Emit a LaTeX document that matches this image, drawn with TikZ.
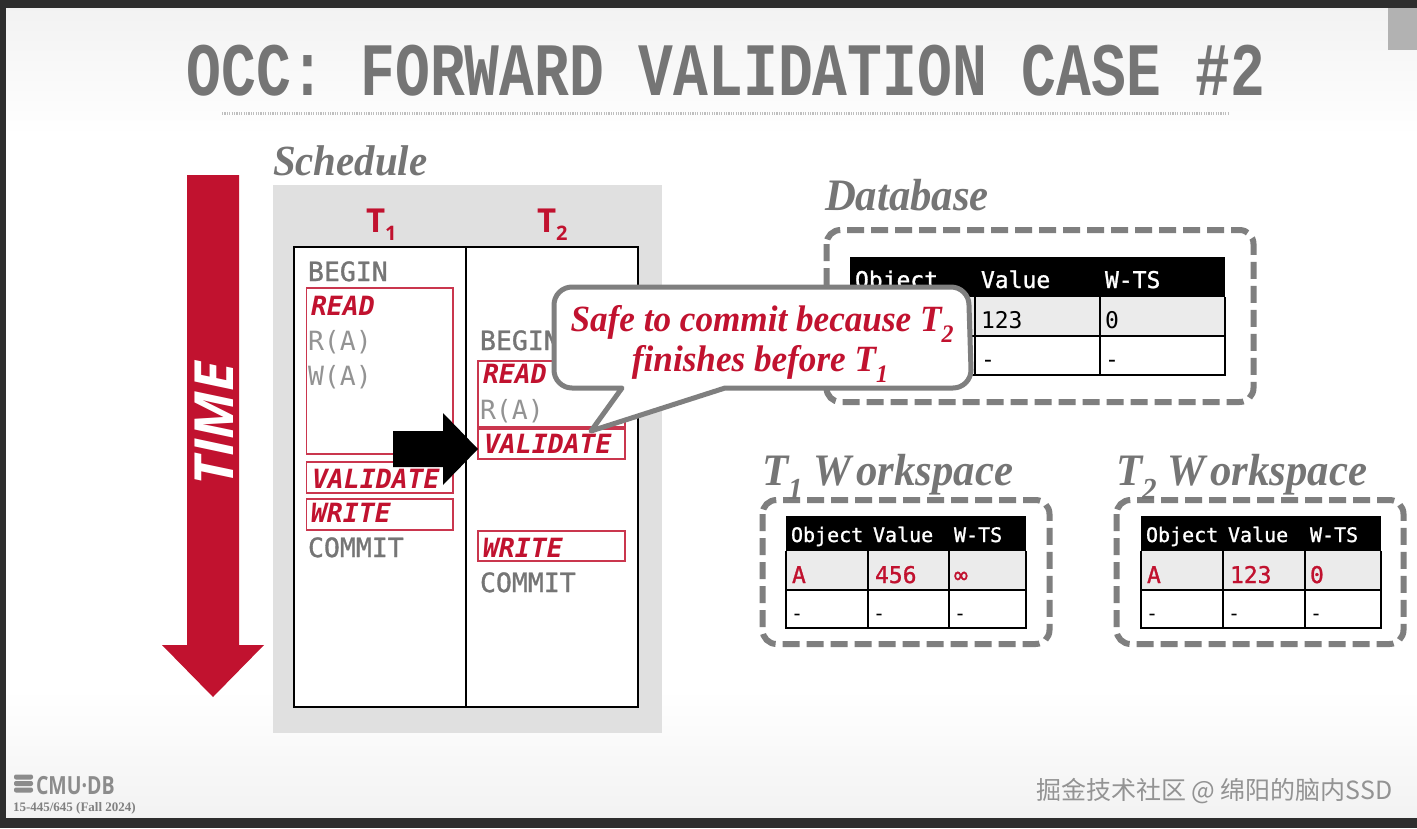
\documentclass[tikz,border=0pt]{standalone}
\usepackage{fontspec}
\setmainfont{Liberation Serif}
\newfontfamily\monof{DejaVu Sans Mono}
\newfontfamily\monom[FakeBold=1.2]{DejaVu Sans Mono}
\newfontfamily\titlef{Liberation Mono}
\newfontfamily\sansf{Open Sans}
\newfontfamily\serifc[FakeStretch=0.95]{Liberation Serif}
\newfontfamily\cjkf{Noto Sans CJK SC}
\usetikzlibrary{calc}
\definecolor{cmured}{HTML}{C1122F}
\definecolor{txtgray}{HTML}{757575}
\definecolor{dashgray}{HTML}{7F7F7F}
\tikzset{
  x=1pt,y=-1pt,
  lbl/.style={anchor=base west,inner sep=0pt,outer sep=0pt},
  step text/.style={lbl,text=txtgray,font=\monom\fontsize{26.5}{30}\selectfont},
  op text/.style={lbl,text=gray!85,font=\monof\fontsize{26.5}{30}\selectfont},
  phase text/.style={lbl,text=cmured,font=\monof\bfseries\itshape\fontsize{26.5}{30}\selectfont},
  phase box/.style={draw=cmured!85,line width=1.1pt,fill=white},
  heading/.style={lbl,text=txtgray,font=\serifc\bfseries\itshape\fontsize{45}{50}\selectfont},
  store box/.style={draw=dashgray,line width=6pt,rounded corners=14pt,dash pattern=on 17pt off 7pt},
  grid line/.style={draw=black,line width=2pt},
  big cell/.style={lbl,font=\monof\fontsize{23}{26}\selectfont},
  small cell/.style={lbl,font=\monof\fontsize{20}{24}\selectfont},
  head big/.style={lbl,text=white,font=\monom\fontsize{23}{26}\selectfont},
  head small/.style={lbl,text=white,font=\monom\fontsize{20}{24}\selectfont},
  small red/.style={lbl,text=cmured,font=\monom\fontsize{23}{26}\selectfont},
}
\newcommand{\lowsub}[1]{\raisebox{-0.32em}{\fontsize{0.68em}{1em}\selectfont #1}}
\newcommand{\workspace}[9]{%
  % #1 prefix, #2 left of box, #3..#5 column lines, #6 right line, #7 title, #8 value, #9 ts
  \draw[store box] (#2+2.5,500) rectangle (#2+289.5,644);
  \node[heading] (#1title) at (#2+2,485) {#7};
  \fill[black] (#3,516) rectangle (#6,551);
  \fill[gray!16] (#3,551) rectangle (#6,590);
  \fill[white] (#3,590) rectangle (#6,628);
  \draw[grid line] (#3,551) -- (#3,628) -- (#6,628) -- (#6,551) (#3,590) -- (#6,590)
     (#4,551) -- (#4,628) (#5,551) -- (#5,628);
  \node[head small] (#1h1) at (#3+5,542) {Object};
  \node[head small] (#1h2) at (#4+5,542) {Value};
  \node[head small] (#1h3) at (#5+5,542) {W-TS};
  \node[small red] (#1a) at (#3+6,583) {A};
  \node[small red] (#1b) at (#4+7,583) {#8};
  \node[small red] (#1c) at (#5+5,583) {#9};
  \node[small cell] (#1d) at (#3+5,620) {-};
  \node[small cell] (#1e) at (#4+5,620) {-};
  \node[small cell] (#1f) at (#5+5,620) {-};
}
\begin{document}
\begin{tikzpicture}
\useasboundingbox (0,0) rectangle (1417,828);
% frame and background
\fill[white] (0,0) rectangle (1417,828);
\shade[top color=black!5,bottom color=white] (6,8) rectangle (1417,135);
\shade[top color=white,bottom color=black!5] (6,690) rectangle (1417,818);
\fill[black!82] (0,0) rectangle (1417,8);
\fill[black!82] (0,0) rectangle (6,828);
\fill[black!82] (0,818) rectangle (1417,828);
\fill[black!30] (1388,8) rectangle (1417,50);
% title
\node[anchor=base,inner sep=0pt,text=txtgray] (title) at (726,95)
  {\scalebox{1}[1.3]{\titlef\bfseries\fontsize{58}{60}\selectfont OCC: FORWARD VALIDATION CASE \#2}};
\draw[gray!50,line width=3pt,dash pattern=on 1.2pt off 1.2pt] (222,113) -- (1228,113);
% time arrow
\fill[cmured] (187,175) -- (239,175) -- (239,645) -- (264,645) -- (213,697) -- (162,645) -- (187,645) -- cycle;
\node[rotate=90,inner sep=0pt,text=white,font=\sansf\bfseries\itshape\fontsize{54}{56}\selectfont] (time) at (214,424) {TIME};
% schedule
\node[heading,font=\serifc\bfseries\itshape\fontsize{43}{50}\selectfont] (schedule) at (273,175) {Schedule};
\fill[black!12] (273,185) rectangle (662,733);
\draw[black,line width=1.2pt,fill=white] (294,247) rectangle (638,707);
\draw[black,line width=1.2pt] (466,247) -- (466,707);
\node[lbl,text=cmured,font=\sansf\bfseries\fontsize{33}{36}\selectfont] (t1) at (366,232) {T};
\node[lbl,text=cmured,font=\sansf\bfseries\fontsize{20}{22}\selectfont] (t1s) at (385,240) {1};
\node[lbl,text=cmured,font=\sansf\bfseries\fontsize{33}{36}\selectfont] (t2) at (537,232) {T};
\node[lbl,text=cmured,font=\sansf\bfseries\fontsize{20}{22}\selectfont] (t2s) at (556,240) {2};
% T1 column
\node[step text] (b1) at (308,281) {BEGIN};
\draw[phase box] (306.5,288) rectangle (453,454);
\node[phase text] (r1) at (311,315) {READ};
\node[op text] (ra1) at (308,350) {R(A)};
\node[op text] (wa1) at (308,385) {W(A)};
\draw[phase box] (306.5,462) rectangle (453,493);
\node[phase text] (v1) at (312,488) {VALIDATE};
\draw[phase box] (306.5,499) rectangle (453,530);
\node[phase text] (w1) at (311,522) {WRITE};
\node[step text] (c1) at (308,557) {COMMIT};
% T2 column
\node[step text] (b2) at (480,350) {BEGIN};
\draw[phase box] (478,361) rectangle (625,427);
\node[phase text] (r2) at (483,383) {READ};
\node[op text] (ra2) at (480,419) {R(A)};
\draw[phase box] (478,429) rectangle (625,459);
\node[phase text] (v2) at (484,453) {VALIDATE};
\draw[phase box] (478,531) rectangle (625,561);
\node[phase text] (w2) at (483,557) {WRITE};
\node[step text] (c2) at (480,592) {COMMIT};
% black arrow
\fill[black] (393,431) -- (443,431) -- (443,413) -- (478,449) -- (443,485) -- (443,467) -- (393,467) -- cycle;
% database
\node[heading] (dbt) at (825,210) {Database};
\draw[store box] (826.5,230) rectangle (1253.5,402);
\fill[black] (850,257) rectangle (1225,297);
\fill[gray!16] (850,297) rectangle (1225,336);
\fill[white] (850,336) rectangle (1225,375);
\draw[grid line] (850,297) -- (850,375) -- (1225,375) -- (1225,297) (850,336) -- (1225,336)
  (975,297) -- (975,375) (1100,297) -- (1100,375);
\node[head big] (dh1) at (855,288) {Object};
\node[head big] (dh2) at (981,288) {Value};
\node[head big] (dh3) at (1105,288) {W-TS};
\node[big cell] (d12) at (981,328) {123};
\node[big cell] (d13) at (1105,328) {0};
\node[big cell] (d22) at (981,367) {-};
\node[big cell] (d23) at (1105,367) {-};
% workspaces
\workspace{wa}{760}{786}{868}{949}{1026}{T\lowsub{1} W\kern5pt orkspace}{456}{∞}
\workspace{wb}{1114}{1141}{1223}{1305}{1381}{T\lowsub{2} W\kern5pt orkspace}{123}{0}
% callout
\draw[dashgray,line width=5pt,fill=white,line join=round]
  (572,287) -- (951,287) arc[start angle=-90,end angle=0,radius=18]
  -- (971,370) arc[start angle=0,end angle=90,radius=18]
  -- (725,388) -- (591,431) -- (622,388) -- (572,388)
  arc[start angle=90,end angle=180,radius=18] -- (554,305)
  arc[start angle=180,end angle=270,radius=18] -- cycle;
\node[anchor=base,inner sep=0pt,text=cmured,font=\serifc\bfseries\itshape\fontsize{37}{40}\selectfont] (say1) at (762,331) {Safe to commit because T\lowsub{2}};
\node[anchor=base,inner sep=0pt,text=cmured,font=\serifc\bfseries\itshape\fontsize{37}{40}\selectfont] (say2) at (760,371) {finishes before T\lowsub{1}};
% footer
\foreach \yy in {777,783.5,790}{
  \fill[gray!90,rounded corners=2pt] (14,\yy-2.5) rectangle (33,\yy+2.5);
}
\node[lbl,text=gray!90] (cmu) at (36,794) {\scalebox{0.78}[1]{\sansf\bfseries\fontsize{25}{27}\selectfont CMU·DB}};
\node[lbl,text=gray,font=\bfseries\fontsize{13}{15}\selectfont] (course) at (13,811) {15-445/645 (Fall 2024)};
\node[lbl,text=gray!85,font=\cjkf\fontsize{25}{27}\selectfont] (mark) at (1036,799) {掘金技术社区 @ 绵阳的脑内SSD};
\end{tikzpicture}
\end{document}
